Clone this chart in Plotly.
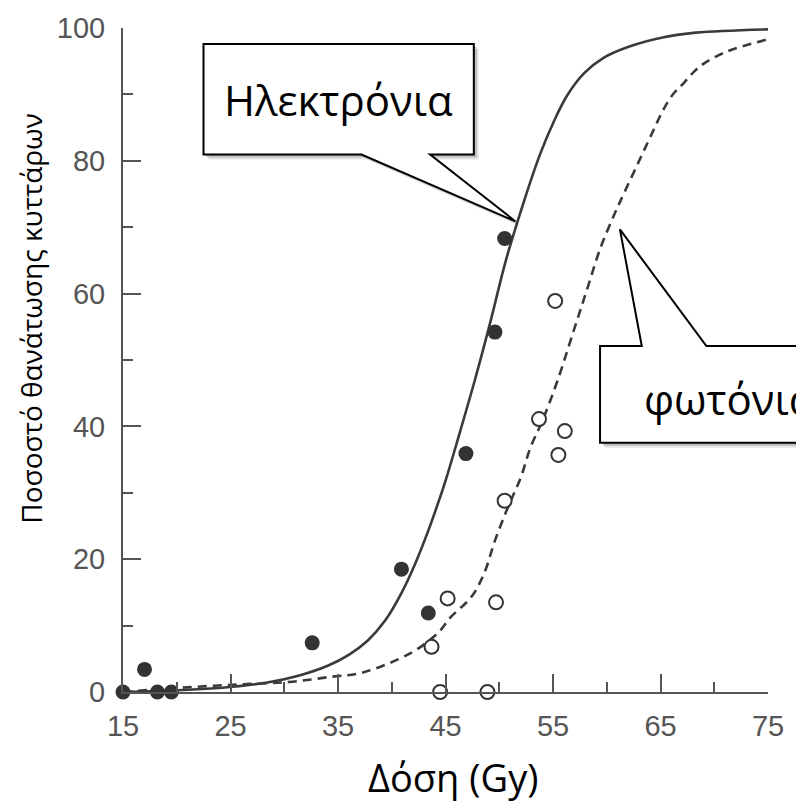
import plotly.graph_objects as go

# ---------------- data ----------------
electron_dose = [15, 17.0, 18.2, 19.5, 32.6, 40.9, 43.4, 46.9, 49.6, 50.5]
electron_kill = [0, 3.4, 0, 0, 7.4, 18.5, 11.9, 35.9, 54.2, 68.3]

photon_dose = [43.7, 44.5, 45.2, 48.9, 49.7, 50.5, 53.7, 55.2, 55.5, 56.1]
photon_kill = [6.8, 0, 14.1, 0, 13.5, 28.8, 41.1, 58.9, 35.7, 39.3]

electron_fit_dose = [15, 20.6, 25.2, 28.3, 31.4, 34.1, 36.0, 37.8, 39.4, 40.9, 42.2, 43.4,
                     44.3, 45.0, 46.1, 47.7, 49.2, 50.6, 52.3, 53.8, 55.1, 56.3, 57.9,
                     59.7, 62.1, 65.3, 68.3, 75]
electron_fit_kill = [0, 0.3, 0.8, 1.4, 2.5, 4.0, 5.6, 7.8, 10.8, 14.9, 19.4, 24.3,
                     28.4, 31.8, 37.8, 46.8, 55.9, 64.9, 73.9, 81.0, 86.0, 89.8, 93.2,
                     95.5, 97.2, 98.6, 99.3, 99.8]

photon_fit_dose = [15, 20, 25.2, 30.4, 34.4, 37.2, 41.8, 44.3, 45.5, 47.4, 48.6, 49.6, 50.8,
                   52.0, 52.9, 54.0, 55.4, 57.0, 58.2, 59.4, 60.7, 61.6, 63.1, 64.4, 65.3,
                   66.2, 67.1, 68.1, 69.0, 71.1, 75.0]
photon_fit_kill = [0, 0.6, 1.1, 1.5, 2.3, 2.9, 5.9, 8.9, 11.3, 14.3, 17.9, 22.8, 27.8,
                   32.3, 36.8, 40.8, 46.8, 54.8, 60.8, 66.8, 71.9, 75.1, 80.3, 84.8, 87.8,
                   90.1, 91.6, 93.4, 94.6, 96.4, 98.3]

x_ticks = [15, 25, 35, 45, 55, 65, 75]
y_ticks = [0, 20, 40, 60, 80, 100]

x_title = "Δόση (Gy)"
y_title = "Ποσοστό θανάτωσης κυττάρων"
label_electrons = "Ηλεκτρόνια"
label_photons = "φωτόνια"

# ---------------- layout geometry (pixels) ----------------
W, H = 796, 805
L, R, T, B = 123, 772, 26, 692


def px(xp):
    return (xp - L) / (R - L)


def py(yp):
    return (B - yp) / (B - T)


def path(points):
    s = "M " + " L ".join(f"{px(a):.5f},{py(b):.5f}" for a, b in points) + " Z"
    return s


INK = "#3a3a3a"
AX = "#555555"

fig = go.Figure()

fig.add_trace(go.Scatter(x=electron_fit_dose, y=electron_fit_kill, mode="lines",
                         line=dict(color=INK, width=2.6, shape="spline", smoothing=1.0),
                         cliponaxis=False, hoverinfo="skip"))
fig.add_trace(go.Scatter(x=photon_fit_dose, y=photon_fit_kill, mode="lines",
                         line=dict(color=INK, width=2.6, dash="9px,6px", shape="spline", smoothing=1.0),
                         cliponaxis=False, hoverinfo="skip"))
fig.add_trace(go.Scatter(x=electron_dose, y=electron_kill, mode="markers",
                         marker=dict(size=15, color="#333333", line=dict(width=0)),
                         cliponaxis=False))
fig.add_trace(go.Scatter(x=photon_dose, y=photon_kill, mode="markers",
                         marker=dict(size=14, color="white", line=dict(width=2, color="#333333")),
                         cliponaxis=False))

# callouts
box_e = [(204, 42), (476, 42), (476, 153), (432, 153), (518, 220), (363, 153), (204, 153)]
box_p = [(603, 345), (645, 345), (623, 228), (710, 345), (830, 345), (830, 442), (603, 442)]

shapes = []
for pts in (box_e, box_p):
    for off, op in ((5, 0.10), (3, 0.18)):
        shadow = [(a + off, b + off) for a, b in pts]
        shapes.append(dict(type="path", xref="paper", yref="paper", path=path(shadow),
                           fillcolor=f"rgba(0,0,0,{op})", line=dict(width=0), layer="above"))
    shapes.append(dict(type="path", xref="paper", yref="paper", path=path(pts),
                       fillcolor="white", line=dict(color="black", width=2), layer="above"))

annotations = [
    dict(text=label_electrons, xref="paper", yref="paper", x=px(340), y=py(98),
         xanchor="center", yanchor="middle", showarrow=False,
         font=dict(family="Open Sans", size=42, color="black")),
    dict(text=label_photons, xref="paper", yref="paper", x=px(645), y=py(398),
         xanchor="left", yanchor="middle", showarrow=False,
         font=dict(family="Open Sans", size=42, color="black")),
    dict(text=x_title, xref="paper", yref="paper", x=px(455), y=py(777),
         xanchor="center", yanchor="middle", showarrow=False,
         font=dict(family="Open Sans", size=38, color="black")),
    dict(text=y_title, xref="paper", yref="paper", x=px(31), y=py(317),
         xanchor="center", yanchor="middle", showarrow=False, textangle=-90,
         font=dict(family="Open Sans", size=28, color="black")),
]

fig.update_layout(
    width=W, height=H,
    margin=dict(l=L, r=W - R, t=T, b=H - B, pad=0),
    paper_bgcolor="white", plot_bgcolor="white",
    showlegend=False,
    shapes=shapes, annotations=annotations,
    xaxis=dict(range=[15, 75], tickvals=x_ticks, ticktext=[str(v) for v in x_ticks],
               showgrid=False, zeroline=False, showline=True, linecolor=AX, linewidth=2,
               ticks="inside", ticklen=18, tickwidth=2, tickcolor=AX,
               ticklabelstandoff=7,
               tickfont=dict(family="Liberation Sans", size=29, color=AX),
               minor=dict(ticks="inside", ticklen=10, tickwidth=2, tickcolor=AX,
                          tickvals=[20, 30, 40, 50, 60, 70])),
    yaxis=dict(range=[0, 100], tickvals=y_ticks, ticktext=[str(v) for v in y_ticks],
               showgrid=False, zeroline=False, showline=True, linecolor=AX, linewidth=2,
               ticks="inside", ticklen=18, tickwidth=2, tickcolor=AX,
               ticklabelstandoff=10,
               tickfont=dict(family="Liberation Sans", size=29, color=AX),
               minor=dict(ticks="inside", ticklen=10, tickwidth=2, tickcolor=AX,
                          tickvals=[10, 30, 50, 70, 90])),
)

fig.write_html("out.html", include_plotlyjs=True, config=dict(displayModeBar=False))
